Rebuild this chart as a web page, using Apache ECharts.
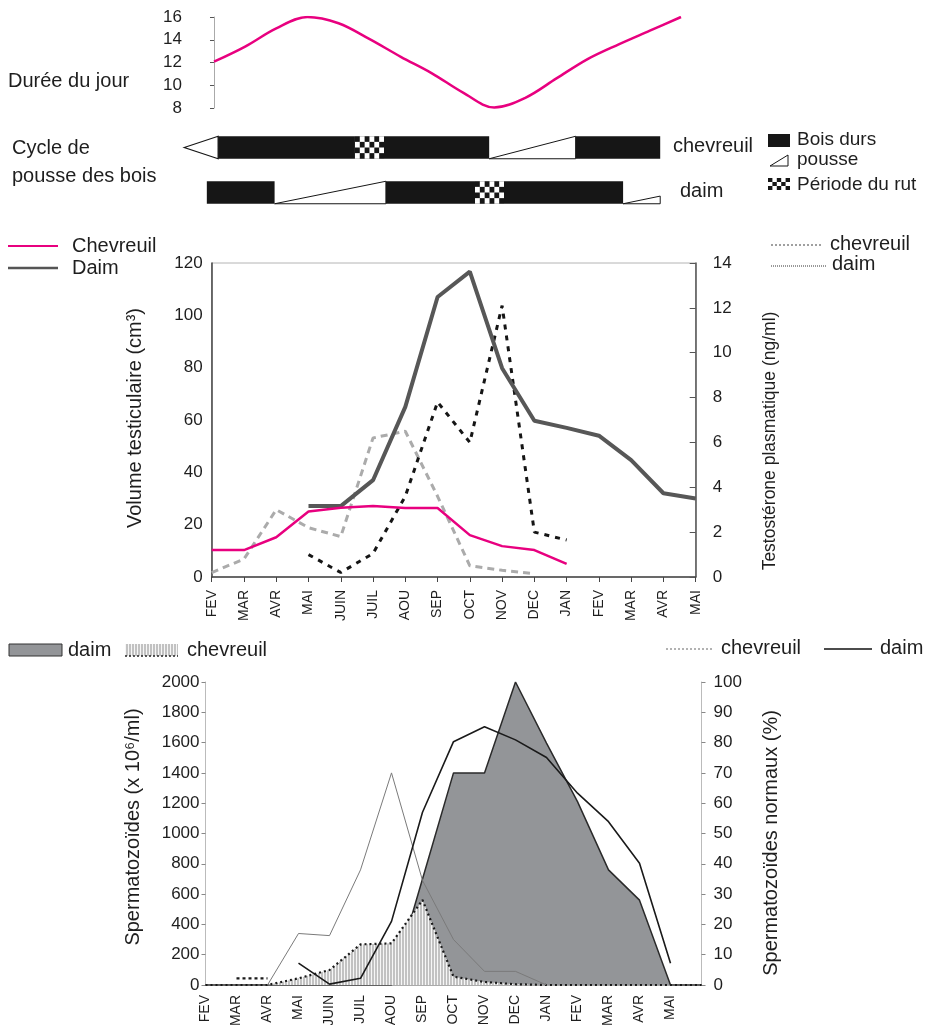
<!DOCTYPE html>
<html><head><meta charset="utf-8">
<script src="https://cdn.jsdelivr.net/npm/echarts@6/dist/echarts.min.js"></script>
<style>html,body{margin:0;padding:0;background:#fff}#c{width:928px;height:1025px}</style>
</head><body><div id="c"></div>
<script>
// ---------- DATA ----------
const months = ['FEV','MAR','AVR','MAI','JUIN','JUIL','AOU','SEP','OCT','NOV','DEC','JAN','FEV','MAR','AVR','MAI'];
const monthsBottom = months.concat(['']);

// Day length (h), monthly samples starting at the spring equinox
const dayStep = [0,1,2,3,4,5,6,7,8,9,10,11,12,13,14,15];
const dayLength = [12.07,13.4,15.0,16.0,15.45,14.05,12.5,11.05,9.35,8.05,8.9,10.6,12.3,13.6,14.8,16.0];

// Antler cycle: [start, end, phase, fraction grown]  (month index, FEV = 0)
const antlerChevreuil = [[-0.85,0.2,'shed',1],[0.2,8.6,'hard',1],[8.6,11.28,'grow',1],[11.28,13.9,'hard',1],[4.44,5.34,'rut',1]];
const antlerDaim = [[-0.15,1.95,'hard',1],[1.95,5.4,'grow',1],[5.4,12.75,'hard',1],[12.75,13.9,'grow',0.34],[8.16,9.06,'rut',1]];

// Testicular volume (cm3)
const volChevreuil = [10.3,10.3,15.2,25,26.5,27.1,26.4,26.4,16,11.8,10.3,5,null,null,null,null];
const volDaim = [null,null,null,27.1,27.1,37,65,107,116.7,79.8,59.7,57,54,44.7,32,30];
// Plasma testosterone (ng/ml)
const testoChevreuil = [0.2,0.8,3.0,2.2,1.8,6.2,6.5,3.6,0.5,0.3,0.15,null,null,null,null,null];
const testoDaim = [null,null,null,1.0,0.2,1.05,3.6,7.8,6.0,12.1,2.0,1.65,null,null,null,null];

// Spermatozoa (x10^6/ml)
const spermDaim = [0,0,0,0,0,0,0,700,1400,1400,2000,1597,1210,760,560,0,0];
const spermChevreuil = [0,0,0,44,99,268,275,561,55,20,5,0,0,0,0,0,0];
const spermChevreuilEarly = [null,44,44,null,null,null,null,null,null,null,null,null,null,null,null,null,null];
// Normal spermatozoa (%)
const normChevreuil = [null,null,0,17,16.3,38,70,34.5,15,4.5,4.5,0,null,null,null,null,null];
const normDaim = [null,null,null,7.2,0.3,2.2,21,57,80.3,85.2,80.9,75.1,63.3,53.9,40.2,7.2,null];

// ---------- CHART ----------
const FONT = '"Liberation Sans", Arial, Helvetica, sans-serif';
const TXT = '#1e1e1e';
const PINK = '#e8007f';
const phaseCode = {hard:0, grow:1, shed:2, rut:3};

const pat = document.createElement('canvas'); pat.width = 3; pat.height = 4;
const pc = pat.getContext('2d');
pc.fillStyle = '#f6f6f6'; pc.fillRect(0,0,3,4);
pc.fillStyle = '#c2c2c2'; pc.fillRect(0,0,2,4);
const hatch = {image: pat, repeat: 'repeat'};

function antlerData(rows, y) { return rows.map(r => [y, r[0], r[1], phaseCode[r[2]], r[3]]); }

function checker(x, y, w, h, cols, rows) {
  const ch = [{type:'rect', shape:{x:x, y:y, width:w, height:h}, style:{fill:'#fff'}}];
  const cw = w / cols, chh = h / rows;
  for (let r = 0; r < rows; r++) for (let c = 0; c < cols; c++) {
    if ((r + c) % 2 === 0) ch.push({type:'rect', shape:{x:x + c*cw, y:y + r*chh, width:cw, height:chh}, style:{fill:'#161616'}});
  }
  return ch;
}

function renderAntler(params, api) {
  const row = api.value(0), x0 = api.value(1), x1 = api.value(2), t = api.value(3), frac = api.value(4);
  const a = api.coord([x0, row]), b = api.coord([x1, row]);
  const h = api.size([0, 1])[1] * 0.5;
  const top = a[1] - h/2, bot = a[1] + h/2;
  if (t === 0) return {type:'rect', shape:{x:a[0], y:top, width:b[0]-a[0], height:h}, style:{fill:'#161616'}};
  if (t === 1) return {type:'polygon', shape:{points:[[a[0],bot],[b[0],bot-h*frac],[b[0],bot]]}, style:{fill:'#fff', stroke:'#161616', lineWidth:1}};
  if (t === 2) return {type:'polygon', shape:{points:[[a[0],a[1]],[b[0],top],[b[0],bot]]}, style:{fill:'#fff', stroke:'#161616', lineWidth:1.2}};
  return {type:'group', children: checker(a[0], top, b[0]-a[0], h, 6, 4)};
}

function txt(x, y, s, size, opts) {
  return Object.assign({type:'text', x:x, y:y, style:{text:s, fontSize:size, fontFamily:FONT, fill:TXT, textAlign:'left', textVerticalAlign:'middle'}}, opts || {});
}
function vtxt(x, y, s, size) {
  return {type:'text', x:x, y:y, rotation:Math.PI/2, style:{text:s, fontSize:size, fontFamily:FONT, fill:TXT, textAlign:'center', textVerticalAlign:'middle'}};
}
function seg(x1, y1, x2, y2, color, width, dash) {
  return {type:'line', shape:{x1:x1,y1:y1,x2:x2,y2:y2}, style:{stroke:color, lineWidth:width, lineDash:dash || null}};
}

const plain = v => String(v);
const tickLbl = {fontSize:17, color:TXT, fontFamily:FONT, showMinLabel:true, showMaxLabel:true, formatter:plain};

const option = {
  animation: false,
  backgroundColor: '#fff',
  textStyle: {fontFamily: FONT},
  grid: [
    {left:196, top:17, width:485, height:91, outerBoundsMode:'none'},
    {left:179.4, top:125, width:516.3, height:90, outerBoundsMode:'none'},
    {left:211.7, top:263, width:484, height:314, show:true, borderColor:'#b4b4b4', borderWidth:1, outerBoundsMode:'none'},
    {left:205.5, top:682, width:496, height:303, outerBoundsMode:'none'}
  ],
  xAxis: [
    {gridIndex:0, type:'value', min:-0.578, max:15, show:false},
    {gridIndex:1, type:'value', min:-1, max:15, show:false},
    {gridIndex:2, type:'category', data:months, boundaryGap:false,
     axisLine:{lineStyle:{color:'#444', width:1.5}},
     axisTick:{show:true, length:5, interval:0, lineStyle:{color:'#444'}},
     axisLabel:{rotate:90, fontSize:14, color:TXT, margin:13, interval:0, fontFamily:FONT}},
    {gridIndex:3, type:'category', data:monthsBottom, boundaryGap:false,
     axisLine:{lineStyle:{color:'#aaa'}}, axisTick:{show:false},
     axisLabel:{rotate:90, fontSize:14, color:TXT, margin:10, interval:0, fontFamily:FONT}}
  ],
  yAxis: [
    {gridIndex:0, type:'value', min:8, max:16, interval:2,
     axisLine:{show:true, lineStyle:{color:'#aaa'}}, axisTick:{show:true, length:4, lineStyle:{color:'#555'}},
     axisLabel:Object.assign({margin:14}, tickLbl), splitLine:{show:false}},
    {gridIndex:1, type:'value', min:0, max:2, show:false},
    {gridIndex:2, type:'value', min:0, max:120, interval:20,
     axisLine:{show:true, lineStyle:{color:'#444', width:1.5}}, axisTick:{show:false},
     axisLabel:Object.assign({margin:9}, tickLbl), splitLine:{show:false}},
    {gridIndex:2, type:'value', position:'right', min:0, max:14, interval:2,
     axisLine:{show:true, lineStyle:{color:'#555', width:1.5}},
     axisTick:{show:true, inside:true, length:6, lineStyle:{color:'#555'}},
     axisLabel:Object.assign({margin:17}, tickLbl), splitLine:{show:false}},
    {gridIndex:3, type:'value', min:0, max:2000, interval:200,
     axisLine:{show:true, lineStyle:{color:'#bbb'}}, axisTick:{show:true, length:4, lineStyle:{color:'#888'}},
     axisLabel:Object.assign({margin:6}, tickLbl), splitLine:{show:false}},
    {gridIndex:3, type:'value', position:'right', min:0, max:100, interval:10,
     axisLine:{show:true, lineStyle:{color:'#bbb'}}, axisTick:{show:true, length:4, lineStyle:{color:'#888'}},
     axisLabel:Object.assign({margin:12}, tickLbl), splitLine:{show:false}}
  ],
  series: [
    // top: day length
    {type:'line', xAxisIndex:0, yAxisIndex:0, data:dayStep.map((d,i)=>[d, dayLength[i]]),
     smooth:0.35, showSymbol:false, symbol:'none', lineStyle:{color:PINK, width:2.5}},
    // antler cycle
    {type:'custom', xAxisIndex:1, yAxisIndex:1, clip:false, renderItem:renderAntler,
     encode:{x:[1,2], y:0}, data: antlerData(antlerChevreuil, 1.5).concat(antlerData(antlerDaim, 0.5))},
    // middle
    {type:'line', xAxisIndex:2, yAxisIndex:3, data:testoChevreuil, symbol:'none',
     lineStyle:{color:'#ababab', width:3, type:[7,5]}},
    {type:'line', xAxisIndex:2, yAxisIndex:3, data:testoDaim, symbol:'none',
     lineStyle:{color:'#151515', width:3, type:[5,6]}},
    {type:'line', xAxisIndex:2, yAxisIndex:2, data:volDaim, symbol:'none',
     lineStyle:{color:'#575757', width:4}},
    {type:'line', xAxisIndex:2, yAxisIndex:2, data:volChevreuil, symbol:'none',
     lineStyle:{color:PINK, width:2.5}},
    // bottom
    {type:'line', xAxisIndex:3, yAxisIndex:4, data:spermDaim, symbol:'none', z:1,
     lineStyle:{color:'#2a2a2a', width:1.5}, areaStyle:{color:'#939598', opacity:1}},
    {type:'line', xAxisIndex:3, yAxisIndex:4, data:spermChevreuil, symbol:'none', z:2,
     lineStyle:{color:'#1a1a1a', width:2.2, type:[2,3]}, areaStyle:{color:hatch, opacity:1}},
    {type:'line', xAxisIndex:3, yAxisIndex:4, data:spermChevreuilEarly, symbol:'none', z:2,
     lineStyle:{color:'#1a1a1a', width:2.2, type:[3,3]}},
    {type:'line', xAxisIndex:3, yAxisIndex:5, data:normChevreuil, symbol:'none', z:3,
     lineStyle:{color:'#7a7a7a', width:1}},
    {type:'line', xAxisIndex:3, yAxisIndex:5, data:normDaim, symbol:'none', z:3,
     lineStyle:{color:'#1a1a1a', width:1.6}}
  ],
  graphic: [
    txt(8, 81, 'Durée du jour', 20),
    txt(12, 148, 'Cycle de', 20),
    txt(12, 176, 'pousse des bois', 20),
    txt(673, 146, 'chevreuil', 20),
    txt(680, 191, 'daim', 20),
    {type:'rect', shape:{x:768, y:134, width:22, height:13}, style:{fill:'#161616'}},
    {type:'polygon', shape:{points:[[770,166],[788,155],[788,166]]}, style:{fill:'#fff', stroke:'#161616', lineWidth:1}},
    {type:'group', children: checker(768, 178, 22, 12, 5, 3)},
    txt(797, 140, 'Bois durs', 19),
    txt(797, 160, 'pousse', 19),
    txt(797, 185, 'Période du rut', 19),
    // middle legend
    seg(8, 246, 58, 246, PINK, 2),
    txt(72, 246, 'Chevreuil', 20),
    seg(8, 268, 58, 268, '#555', 2.5),
    txt(72, 268, 'Daim', 20),
    seg(771, 245, 823, 245, '#a0a0a0', 2, [2,2]),
    txt(830, 244, 'chevreuil', 20),
    seg(771, 266, 826, 266, '#333', 1, [1,1]),
    txt(832, 264, 'daim', 20),
    vtxt(135, 418, 'Volume testiculaire (cm³)', 20),
    vtxt(770, 441, 'Testostérone plasmatique (ng/ml)', 17.5),
    // bottom legend
    {type:'rect', shape:{x:9, y:644, width:53, height:12}, style:{fill:'#939598', stroke:'#333', lineWidth:1}},
    txt(68, 650, 'daim', 20),
    {type:'rect', shape:{x:125, y:644, width:53, height:12}, style:{fill:hatch}},
    seg(125, 656, 178, 656, '#222', 1.5, [2,2]),
    txt(187, 650, 'chevreuil', 20),
    seg(666, 649, 714, 649, '#999', 1.5, [2,2]),
    txt(721, 648, 'chevreuil', 20),
    seg(824, 649, 872, 649, '#111', 1.5),
    txt(880, 648, 'daim', 20),
    vtxt(133, 827, 'Spermatozoïdes (x 10⁶/ml)', 20),
    vtxt(771, 843, 'Spermatozoïdes normaux (%)', 20)
  ]
};

const chart = echarts.init(document.getElementById('c'), null, {renderer:'canvas'});
chart.setOption(option);
</script>
</body></html>
